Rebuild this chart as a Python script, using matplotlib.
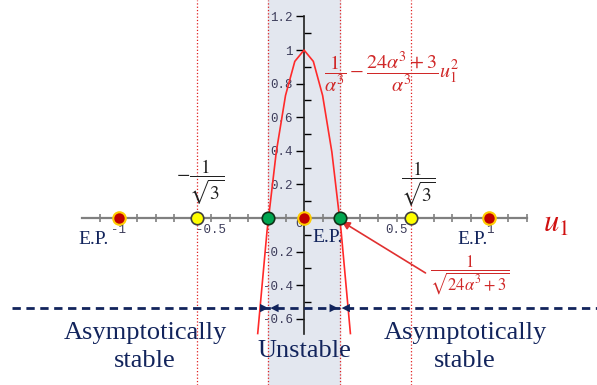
import numpy as np
import matplotlib.pyplot as plt

plt.rcParams['mathtext.fontset'] = 'stix'

# parameters / data
alpha = 1.0
u_curve = np.linspace(-0.25, 0.25, 11)
f_curve = 1 / alpha**3 - (24 * alpha**3 + 3) / alpha**3 * u_curve**2

u_star = 1 / np.sqrt(24 * alpha**3 + 3)        # zeros of the curve
ep_points = [-1.0, 0.0, 1.0]                   # equilibrium points
mid_points = [-1 / np.sqrt(3), 1 / np.sqrt(3)]
zero_points = [-u_star, u_star]

xticks_lab = [-1, -0.5, 0.5, 1]
xticks_txt = ['-1', '-0.5', '0.5', '1']
yticks_lab = [1.2, 1, 0.8, 0.6, 0.4, 0.2, -0.2, -0.4, -0.6]
yticks_txt = ['1.2', '1', '0.8', '0.6', '0.4', '0.2', '-0.2', '-0.4', '-0.6']

navy = '#12245c'
red = '#e02020'
mono = 'Liberation Mono'
serif = 'Liberation Serif'
tick_col = '#3c3c5a'

fig = plt.figure(figsize=(5.97, 3.85), dpi=100)
ax = fig.add_axes([0, 0, 1, 1])
ax.set_xlim(-1.64, 1.58)
ax.set_ylim(-0.994, 1.298)

# unstable band
ax.axvspan(-u_star, u_star, color='#e3e7ef', zorder=0)
for xv in zero_points + mid_points:
    ax.axvline(xv, color=red, ls=':', lw=0.9, zorder=1)

# axes through the origin
for s in ['top', 'right']:
    ax.spines[s].set_visible(False)
ax.spines['bottom'].set_position(('data', 0))
ax.spines['bottom'].set_bounds(-1.2, 1.2)
ax.spines['bottom'].set_color('#808080')
ax.spines['bottom'].set_linewidth(1.6)
ax.spines['left'].set_position(('data', 0))
ax.spines['left'].set_bounds(-0.69, 1.2)
ax.spines['left'].set_color('#202020')
ax.spines['left'].set_linewidth(1.2)

ax.set_xticks(xticks_lab)
ax.set_xticklabels(xticks_txt, fontfamily=mono, fontsize=9, color=tick_col)
ax.set_xticks(np.round(np.arange(-1.1, 1.21, 0.1), 2), minor=True)
ax.tick_params(axis='x', which='both', direction='inout', length=6,
               width=1.2, color='#808080', pad=1)
ax.set_yticks(yticks_lab)
ax.set_yticklabels(yticks_txt, fontfamily=mono, fontsize=9, color=tick_col)
ax.set_yticks(np.round(np.arange(-0.6, 1.21, 0.1), 2), minor=True)
ax.tick_params(axis='y', which='major', direction='out', length=6, width=1, pad=2)
ax.tick_params(axis='y', which='minor', direction='in', length=5, width=1)
ax.text(-0.03, -0.035, '0', fontfamily=mono, fontsize=9, color=tick_col,
        ha='center', va='center')

# curve
ax.plot(u_curve, f_curve, color='#ff2a2a', lw=1.2, zorder=3)

# equilibrium and boundary points
ax.plot(ep_points, [0] * 3, 'o', ms=9, mfc='#c00000', mec='#ffcc00', mew=1.5, zorder=5)
ax.plot(mid_points, [0] * 2, 'o', ms=9, mfc='#ffff00', mec='#404040', mew=1.2, zorder=5)
ax.plot(zero_points, [0] * 2, 'o', ms=9, mfc='#00a650', mec='#103018', mew=1.2, zorder=5)

for xe, ye in [(-1.138, -0.13), (0.124, -0.115), (0.906, -0.13)]:
    ax.text(xe, ye, 'E.P.', fontfamily=serif, fontsize=14, color=navy,
            ha='center', va='center')

ax.text(-0.56, 0.21, r'$-\dfrac{1}{\sqrt{3}}$', fontsize=14, color='#202020',
        ha='center', va='center')
ax.text(0.615, 0.20, r'$\dfrac{1}{\sqrt{3}}$', fontsize=14, color='#202020',
        ha='center', va='center')

ax.text(0.105, 0.87, r'$\dfrac{1}{\alpha^3}-\dfrac{24\alpha^3+3}{\alpha^3}u_1^2$',
        fontsize=14.5, color='#d02828', ha='left', va='center')
ax.text(1.36, -0.03, r'$u_1$', fontsize=22, color='#d01010', ha='center', va='center')

ax.text(0.895, -0.345, r'$\dfrac{1}{\sqrt{24\alpha^3+3}}$', fontsize=12,
        color='#d02828', ha='center', va='center')
ax.annotate('', xy=(u_star + 0.01, -0.02), xytext=(0.655, -0.327),
            arrowprops=dict(arrowstyle='-|>', color='#e03030', lw=1.2,
                            mutation_scale=12, shrinkA=0, shrinkB=0))

# stability regions
yd = -0.536
ax.plot([-1.575, 1.58], [yd, yd], color=navy, lw=2, ls=(0, (3, 2)), zorder=4)
for tip, tail in [(-u_star, -u_star - 0.08), (-u_star + 0.01, -u_star + 0.09),
                  (u_star - 0.01, u_star - 0.09), (u_star + 0.01, u_star + 0.09)]:
    ax.annotate('', xy=(tip, yd), xytext=(tail, yd),
                arrowprops=dict(arrowstyle='-|>', color=navy, lw=0,
                                mutation_scale=15, shrinkA=0, shrinkB=0))

ax.text(-0.858, -0.768, 'Asymptotically\nstable', fontfamily=serif, fontsize=19,
        color=navy, ha='center', va='center', linespacing=1.3)
ax.text(0.868, -0.768, 'Asymptotically\nstable', fontfamily=serif, fontsize=19,
        color=navy, ha='center', va='center', linespacing=1.3)
ax.text(0.0, -0.79, 'Unstable', fontfamily=serif, fontsize=19, color=navy,
        ha='center', va='center')

fig.savefig('out.png', dpi=100)
